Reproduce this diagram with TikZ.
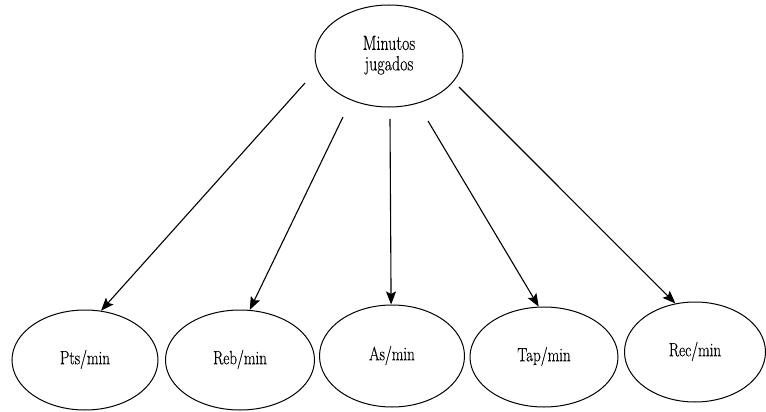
\documentclass[tikz,border=0pt]{standalone}
\usepackage{fontspec}
\newfontfamily\lmr[FakeBold=0.5]{Latin Modern Roman}
\usetikzlibrary{shapes.geometric,arrows.meta}
\newcommand{\tallt}[1]{\scalebox{1}[1.28]{\begin{tabular}{@{}c@{}}#1\end{tabular}}}
\begin{document}
\begin{tikzpicture}[x=1pt,y=-1pt,
  oval/.style={draw, ellipse, line width=1pt, inner sep=0pt,
    minimum width=146pt, minimum height=100pt,
    font=\lmr\fontsize{15}{15.5}\selectfont, align=center},
  link/.style={line width=1.1pt, -{Stealth[length=13pt,width=10pt,inset=2.5pt]}}]
\useasboundingbox (0,0) rectangle (766,412);
\node[oval, minimum width=148pt, minimum height=102pt, font=\lmr\fontsize{16}{16}\selectfont] (top) at (389,56) {\tallt{Minutos\\jugados}};
\node[oval] (pts) at (85,360) {\tallt{Pts/min}};
\node[oval, minimum width=149pt] (reb) at (240,360) {\tallt{Reb/min}};
\node[oval, minimum width=145pt, minimum height=102pt] (as) at (392,356) {\tallt{As/min}};
\node[oval, minimum width=148pt] (tap) at (544,357) {\tallt{Tap/min}};
\node[oval, minimum width=141pt] (rec) at (695,352) {\tallt{Rec/min}};
\coordinate (s1) at (305,83);
\coordinate (s2) at (343,117);
\coordinate (s3) at (390,119);
\coordinate (s4) at (428,121);
\coordinate (s5) at (459,87);
\draw[link] (s1) -- (pts.72);
\draw[link] (s2) -- (reb.79);
\draw[link] (s3) -- (as.91);
\draw[link] (s4) -- (tap.96);
\draw[link] (s5) -- (rec.112);
\end{tikzpicture}
\end{document}
